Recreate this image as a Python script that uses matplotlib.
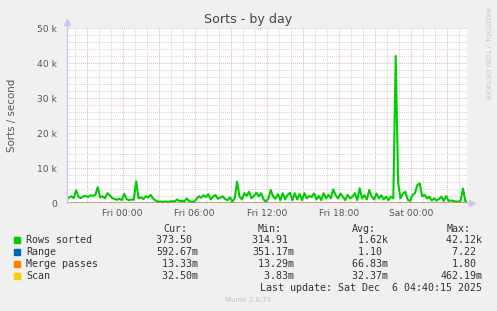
import numpy as np
import matplotlib
matplotlib.use("Agg")
import matplotlib.pyplot as plt

# ------------------------------------------------------------
# data (hours relative to Fri 00:00, one sample every 12 min)
# ------------------------------------------------------------
t_start = -4 - 40 / 60.0     # Thu 19:20
step_h = 0.2                 # 12 minutes

rows_sorted_k = [
    1.1, 1.6, 2.0, 1.5, 3.7, 1.8, 1.5, 2.0, 2.1, 1.8,
    2.3, 2.1, 2.4, 4.6, 1.7, 2.0, 1.4, 2.9, 2.3, 1.5,
    1.2, 1.0, 1.3, 0.9, 2.7, 1.2, 0.9, 1.1, 1.0, 6.3,
    1.4, 1.7, 1.2, 2.0, 1.7, 2.4, 1.4, 0.8, 0.5, 0.5,
    0.4, 0.5, 0.4, 0.5, 0.6, 0.5, 1.1, 0.6, 0.7, 0.5,
    1.4, 0.6, 0.5, 0.4, 1.1, 2.0, 1.6, 2.3, 1.8, 2.6,
    1.1, 1.9, 2.4, 1.3, 1.6, 2.0, 1.2, 0.9, 1.7, 0.5,
    1.4, 6.2, 1.9, 1.1, 2.9, 2.1, 3.3, 1.4, 2.1, 3.0,
    2.0, 2.9, 1.1, 0.5, 1.3, 3.8, 1.9, 1.3, 2.6, 0.9,
    2.9, 1.1, 2.4, 3.0, 0.9, 2.9, 1.1, 2.7, 0.9, 2.9,
    1.4, 2.1, 1.8, 2.8, 1.1, 2.1, 0.9, 2.9, 1.4, 2.4,
    1.4, 4.0, 2.3, 1.4, 2.8, 1.9, 0.9, 2.4, 1.4, 1.9,
    2.9, 0.9, 4.3, 1.4, 2.3, 1.1, 3.8, 1.9, 1.1, 2.8,
    1.4, 2.3, 1.1, 1.9, 0.9, 1.9, 1.4, 42.1, 5.8, 1.4,
    2.8, 3.3, 1.0, 0.7, 2.4, 2.9, 5.2, 5.7, 2.0, 2.4,
    1.4, 1.9, 0.8, 1.4, 0.8, 1.2, 1.9, 0.7, 2.1, 0.7,
    0.8, 0.7, 0.5, 0.5, 0.7, 4.2, 0.5, 0.4,
]

# the small series sit on the zero line
small_times = [-4.67, 4.0, 12.0, 20.0, 28.67]
range_vals = [0.6, 1.1, 0.9, 1.3, 0.59]
merge_vals = [0.05, 0.07, 0.06, 0.08, 0.013]
scan_vals = [0.03, 0.03, 0.04, 0.03, 0.033]

x_label_pos = [0, 6, 12, 18, 24]
x_labels = ["Fri 00:00", "Fri 06:00", "Fri 12:00", "Fri 18:00", "Sat 00:00"]
y_ticks = [0, 10000, 20000, 30000, 40000, 50000]
y_labels = ["0", "10 k", "20 k", "30 k", "40 k", "50 k"]

legend_names = ["Rows sorted", "Range", "Merge passes", "Scan"]
legend_colors = ["#00cc00", "#0066b3", "#ff8000", "#ffcc00"]
cur_vals = ["373.50 ", "592.67m", " 13.33m", " 32.50m"]
min_vals = ["314.91 ", "351.17m", " 13.29m", "  3.83m"]
avg_vals = ["  1.62k", "  1.10 ", " 66.83m", " 32.37m"]
max_vals = [" 42.12k", "  7.22 ", "  1.80 ", "462.19m"]

# ------------------------------------------------------------
# figure
# ------------------------------------------------------------
W, H = 497, 311
fig = plt.figure(figsize=(W / 100, H / 100), dpi=100, facecolor="#f0f0f0")
ax = fig.add_axes([66.5 / W, (H - 203.3) / H, 400.5 / W, 175 / H])
ax.set_facecolor("white")

x0, x1 = t_start, 28 + 40 / 60.0
ax.set_xlim(x0, x1)
ax.set_ylim(0, 50000)

# grid: minor every hour / 2k, major every 3 hours / 10k
for h in range(-4, 29):
    major = (h % 3 == 0)
    ax.axvline(h, color="#e8b4b4" if major else "#d4d4d4",
               lw=0.7, ls=(0, (1, 1)), zorder=1)
for v in range(2000, 50001, 2000):
    major = (v % 10000 == 0)
    ax.axhline(v, color="#e8b4b4" if major else "#d4d4d4",
               lw=0.7, ls=(0, (1, 1)), zorder=1)

times = t_start + step_h * np.arange(len(rows_sorted_k))
ax.plot(times, np.array(rows_sorted_k) * 1000, color=legend_colors[0],
        lw=1.5, zorder=3, clip_on=True)
ax.plot(small_times, range_vals, color=legend_colors[1], lw=1, zorder=3)
ax.plot(small_times, merge_vals, color=legend_colors[2], lw=1, zorder=3)
ax.plot(small_times, scan_vals, color="#d8b070", lw=1, zorder=4)

for s in ax.spines.values():
    s.set_visible(False)
axis_col = "#c8c8f0"
ax.plot([0, 0], [0, 1.03], transform=ax.transAxes, color=axis_col,
        lw=1, clip_on=False, zorder=5)
ax.plot([0], [1.035], transform=ax.transAxes, marker="^", ms=4,
        color=axis_col, clip_on=False, zorder=5)
ax.plot([1.0, 1.01], [0, 0], transform=ax.transAxes, color=axis_col,
        lw=1, clip_on=False, zorder=5)
ax.plot([1.012], [0], transform=ax.transAxes, marker=">", ms=4,
        color=axis_col, clip_on=False, zorder=5)

ax.set_xticks(x_label_pos)
ax.set_xticklabels(x_labels)
ax.set_yticks(y_ticks)
ax.set_yticklabels(y_labels)
ax.tick_params(axis="both", length=0, labelsize=6.6, colors="#555555")
ax.tick_params(axis="x", pad=4)
ax.tick_params(axis="y", pad=7)

ax.set_ylabel("Sorts / second", fontsize=7.4, color="#555555", labelpad=14)

def px(x, y):
    return x / W, 1 - y / H

fig.text(*px(248, 19), "Sorts - by day", ha="center", va="center",
         fontsize=9.1, color="#444444")
fig.text(*px(487, 53), "RRDTOOL / TOBI OETIKER", rotation=270,
         ha="center", va="center", fontsize=5.2, color="#c8c8c8")

# legend table
mono = dict(family="DejaVu Sans Mono", fontsize=7.2, color="#333333")
head_y = 228.5
for txt, xr in zip(["Cur:", "Min:", "Avg:", "Max:"], [187, 282, 376, 470.5]):
    fig.text(*px(xr, head_y), txt, ha="right", va="center", **mono)

row_y = [240, 252, 264, 276]
for i in range(len(legend_names)):
    y = row_y[i]
    fig.patches.append(plt.Rectangle(px(14, y + 3), 6 / W, 6 / H,
                                     transform=fig.transFigure,
                                     color=legend_colors[i]))
    fig.text(*px(26, y), legend_names[i], ha="left", va="center", **mono)
    fig.text(*px(198.5, y), cur_vals[i], ha="right", va="center", **mono)
    fig.text(*px(294, y), min_vals[i], ha="right", va="center", **mono)
    fig.text(*px(388, y), avg_vals[i], ha="right", va="center", **mono)
    fig.text(*px(482.5, y), max_vals[i], ha="right", va="center", **mono)

fig.text(*px(482.5, 288), "Last update: Sat Dec  6 04:40:15 2025",
         ha="right", va="center", **mono)
fig.text(*px(248, 300), "Munin 2.0.73", ha="center", va="center",
         fontsize=5.0, color="#c0c0c0")

fig.savefig("out.png", dpi=100, facecolor=fig.get_facecolor())
